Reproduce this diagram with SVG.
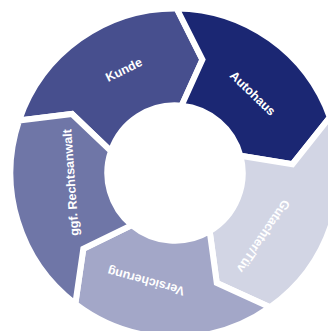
<svg xmlns="http://www.w3.org/2000/svg" width="328" height="331" viewBox="0 0 328 331">
<style>
.seg{stroke:#ffffff;stroke-width:6;stroke-linejoin:miter}
.lbl{font-family:"Liberation Sans",Arial,sans-serif;font-weight:bold;font-size:12.5px;fill:#ffffff;text-anchor:middle;dominant-baseline:central}
</style>
<rect width="328" height="331" fill="#ffffff"/>
<g id="kunde">
<path class="seg" fill="#474F8E" d="M19.09,120.53 A164.5,164.5 0 0 1 176.72,8.51 L202.41,59.66 L181.61,105.62 A67.7,67.7 0 0 0 110.91,151.18 L71.99,114.02 Z"/>
<text class="lbl" transform="translate(124,70) rotate(-26)">Kunde</text>
</g>
<g id="autohaus">
<path class="seg" fill="#1B2773" d="M176.72,8.51 A164.5,164.5 0 0 1 329.78,117.28 L292.47,164.17 L240.45,155.71 A67.7,67.7 0 0 0 181.61,105.62 L202.41,59.66 Z"/>
<text class="lbl" transform="translate(252.5,93.5) rotate(44)">Autohaus</text>
</g>
<g id="gutachter">
<path class="seg" fill="#D2D5E4" d="M329.78,117.28 A164.5,164.5 0 0 1 270.06,307.25 L216.76,282.94 L209.67,231.15 A67.7,67.7 0 0 0 240.45,155.71 L292.47,164.17 Z"/>
<text class="lbl" transform="translate(263,236) rotate(124)">Gutachter/Tüv</text>
</g>
<g id="versicherung">
<path class="seg" fill="#A3A7C8" d="M270.06,307.25 A164.5,164.5 0 0 1 75.31,303.86 L83.31,248.85 L131.76,225.09 A67.7,67.7 0 0 0 209.67,231.15 L216.76,282.94 Z"/>
<text class="lbl" transform="translate(146,281) rotate(195)">Versicherung</text>
</g>
<g id="rechtsanwalt">
<path class="seg" fill="#6F76A7" d="M75.31,303.86 A164.5,164.5 0 0 1 19.09,120.53 L71.99,114.02 L110.91,151.18 A67.7,67.7 0 0 0 131.76,225.09 L83.31,248.85 Z"/>
<text class="lbl" transform="translate(71,182.5) rotate(-94)">ggf. Rechtsanwalt</text>
</g>
<g id="connectors"/>
</svg>
